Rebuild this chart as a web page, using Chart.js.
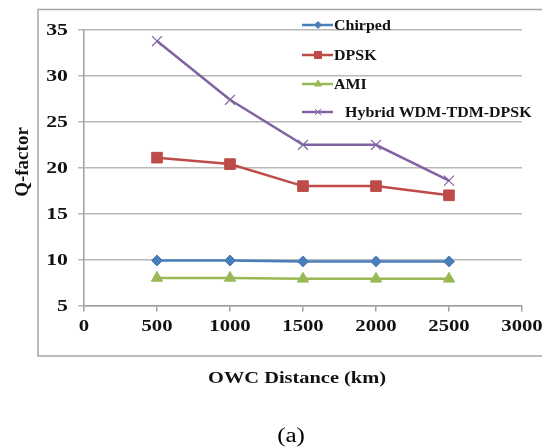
<!DOCTYPE html>
<html>
<head>
<meta charset="utf-8">
<script src="https://cdn.jsdelivr.net/npm/chart.js@4/dist/chart.umd.min.js"></script>
<style>
  html, body { margin: 0; padding: 0; background: #fff; }
  #wrap { width: 542px; height: 448px; }
</style>
</head>
<body>
<div id="wrap"><canvas id="c" width="542" height="448"></canvas></div>
<script>
// OWC distance (km) and Q-factor per modulation format
const distances = [500, 1000, 1500, 2000, 2500];
const chirped = [9.9, 9.9, 9.8, 9.8, 9.8];
const dpsk = [21.1, 20.4, 18.0, 18.0, 17.0];
const ami = [8.0, 8.0, 7.9, 7.9, 7.9];
const hybrid = [33.8, 27.4, 22.5, 22.5, 18.6];
const seriesNames = ['Chirped', 'DPSK', 'AMI', 'Hybrid WDM-TDM-DPSK'];
const xTicks = [0, 500, 1000, 1500, 2000, 2500, 3000];
const yTicks = [5, 10, 15, 20, 25, 30, 35];

const SERIF = '"Liberation Serif", "Times New Roman", serif';
const INK = '#121212';

function pts(values) {
  return distances.map((d, i) => ({ x: d, y: values[i] }));
}

const styles = [
  { color: '#4a7ebb', point: 'rectRot', radius: 5.5, legendR: 3.5, lw: 1 },
  { color: '#be4b48', point: 'rect', radius: 7.5, legendR: 5, lw: 1 },
  { color: '#98b954', point: 'triangle', radius: 6.5, legendR: 4, lw: 1 },
  { color: '#8064a2', point: 'crossRot', radius: 7, legendR: 4.5, lw: 1.2 }
];
const allValues = [chirped, dpsk, ami, hybrid];

const datasets = allValues.map((vals, i) => ({
  label: seriesNames[i],
  data: pts(vals),
  borderColor: styles[i].color,
  backgroundColor: styles[i].color,
  borderWidth: 2.5,
  pointStyle: styles[i].point,
  pointRadius: styles[i].radius,
  pointBorderWidth: styles[i].lw,
  pointBorderColor: styles[i].color,
  pointBackgroundColor: styles[i].color,
  tension: 0
}));

// text drawn slightly wide, like the original figure lettering
function wideText(ctx, text, x, y, sx, align) {
  ctx.save();
  ctx.translate(x, y);
  ctx.scale(sx, 1);
  ctx.textAlign = align;
  ctx.textBaseline = 'middle';
  ctx.fillText(text, 0, 0);
  ctx.restore();
}

// Frame, tick labels, axis titles, caption and the in-plot legend
const decorations = {
  id: 'decorations',
  beforeDraw(chart) {
    const ctx = chart.ctx;
    ctx.save();
    ctx.strokeStyle = '#a6a6a6';
    ctx.lineWidth = 1.5;
    ctx.strokeRect(38, 9.5, 520, 346.5);
    ctx.restore();
  },
  afterDraw(chart) {
    const ctx = chart.ctx;
    const xs = chart.scales.x, ys = chart.scales.y;
    ctx.save();
    ctx.fillStyle = INK;

    // tick labels
    ctx.font = 'bold 17px ' + SERIF;
    xs.ticks.forEach(t => {
      wideText(ctx, String(t.value), xs.getPixelForValue(t.value), 327, 1.22, 'center');
    });
    ys.ticks.forEach(t => {
      wideText(ctx, String(t.value), 68, ys.getPixelForValue(t.value) + 1, 1.28, 'right');
    });

    // axis titles
    ctx.font = 'bold 17px ' + SERIF;
    wideText(ctx, 'OWC Distance (km)', 297, 379, 1.2, 'center');

    ctx.save();
    ctx.translate(23, 162);
    ctx.rotate(-Math.PI / 2);
    ctx.font = 'bold 19px ' + SERIF;
    ctx.textAlign = 'center';
    ctx.textBaseline = 'middle';
    ctx.fillText('Q-factor', 0, 0);
    ctx.restore();

    ctx.font = '20px ' + SERIF;
    ctx.fillStyle = '#000';
    wideText(ctx, '(a)', 291, 437, 1.25, 'center');

    // legend
    const rows = [25, 55, 84, 112];
    ctx.font = 'bold 14px ' + SERIF;
    rows.forEach((y, i) => {
      const st = styles[i];
      ctx.strokeStyle = st.color;
      ctx.fillStyle = st.color;
      ctx.lineWidth = 2.5;
      ctx.beginPath();
      ctx.moveTo(302, y);
      ctx.lineTo(333, y);
      ctx.stroke();
      ctx.lineWidth = 1;
      Chart.helpers.drawPoint(ctx, {
        pointStyle: st.point,
        radius: st.legendR,
        borderWidth: 1,
        rotation: 0
      }, 318, y);
      ctx.fillStyle = INK;
      wideText(ctx, seriesNames[i], i === 3 ? 345 : 334, y + 1, 1.14, 'left');
    });
    ctx.restore();
  }
};

new Chart(document.getElementById('c'), {
  type: 'line',
  data: { datasets },
  plugins: [decorations],
  options: {
    responsive: false,
    animation: false,
    layout: { padding: { left: 0, right: 20, top: 30, bottom: 0 } },
    plugins: {
      legend: { display: false },
      tooltip: { enabled: false }
    },
    scales: {
      x: {
        type: 'linear',
        min: 0,
        max: 3000,
        afterBuildTicks(scale) { scale.ticks = xTicks.map(v => ({ value: v })); },
        afterFit(scale) { scale.height = 142.5; },
        border: { display: true, color: '#a0a0a0', width: 1.5 },
        grid: { drawOnChartArea: false, drawTicks: true, tickLength: 6, color: '#a0a0a0', lineWidth: 1.5 },
        ticks: { display: false }
      },
      y: {
        type: 'linear',
        min: 5,
        max: 35,
        afterBuildTicks(scale) { scale.ticks = yTicks.map(v => ({ value: v })); },
        afterFit(scale) { scale.width = 84; },
        border: { display: true, color: '#a0a0a0', width: 1.5 },
        grid: { drawOnChartArea: true, drawTicks: true, tickLength: 6, color: '#b8b8b8', lineWidth: 1.5 },
        ticks: { display: false }
      }
    }
  }
});
</script>
</body>
</html>
